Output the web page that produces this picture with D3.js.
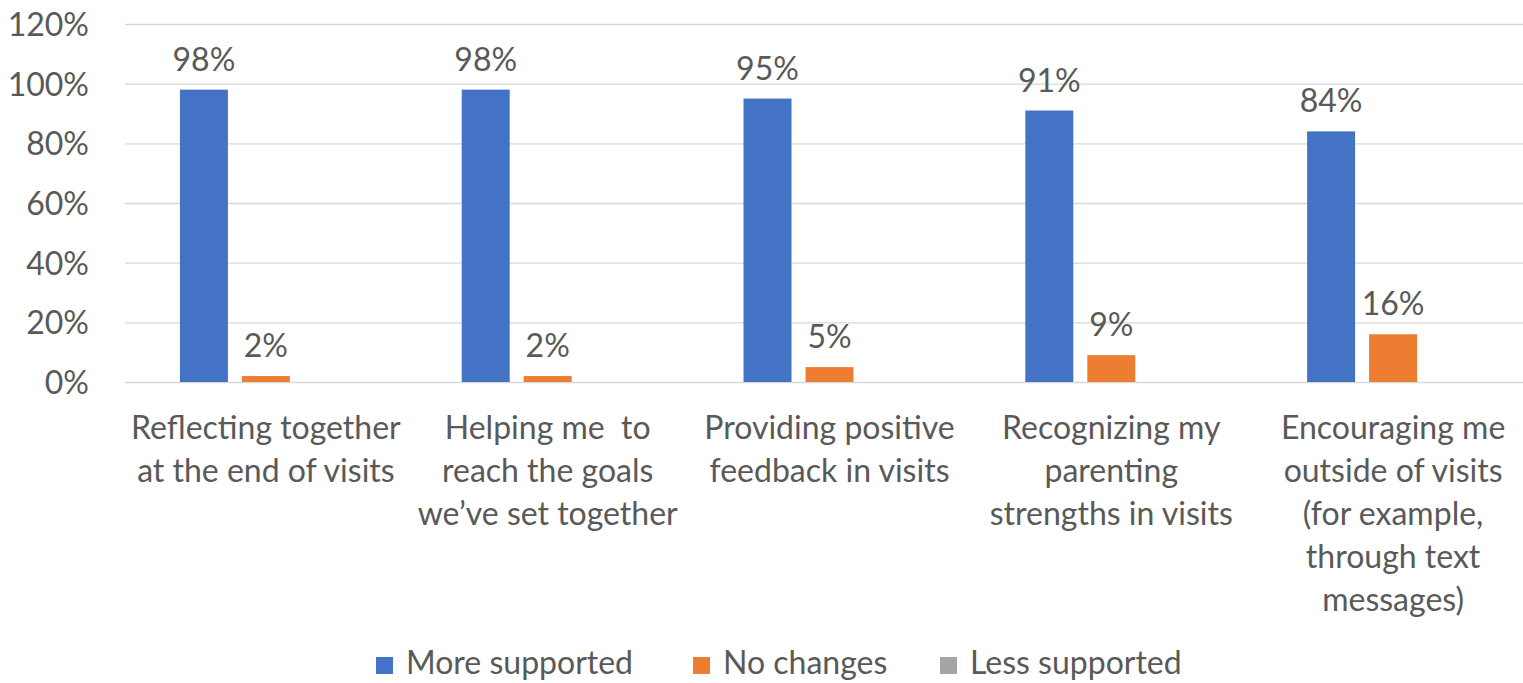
<!DOCTYPE html>
<html>
<head>
<meta charset="utf-8">
<script src="https://cdn.jsdelivr.net/npm/d3@7"></script>
<style>
  body { margin: 0; background: #fff; }
  svg { display: block; font-family: Lato, "Open Sans", sans-serif; }
</style>
</head>
<body>
<div id="chart"></div>
<script>
// chart data
var categories = [
    ['Reflecting together', 'at the end of visits'],
    ['Helping me  to', 'reach the goals', 'we\u2019ve set together'],
    ['Providing positive', 'feedback in visits'],
    ['Recognizing my', 'parenting', 'strengths in visits'],
    ['Encouraging me', 'outside of visits', '(for example,', 'through text', 'messages)']
];
var seriesNames = ['More supported', 'No changes', 'Less supported'];
var moreSupported = [98, 98, 95, 91, 84];
var noChanges = [2, 2, 5, 9, 16];
var lessSupported = [0, 0, 0, 0, 0];
var yTicks = [0, 20, 40, 60, 80, 100, 120];

var colors = ['#4472C4', '#ED7D31', '#A5A5A5'];

var width = 1523, height = 683;
var textColor = '#595959';
var fontSize = 32;

var svg = d3.select('#chart').append('svg')
    .attr('width', width)
    .attr('height', height);

var catIds = categories.map(function (c, i) { return i; });
var values = [moreSupported, noChanges, lessSupported];

// outer band per category, plot runs past the right edge like the original crop
var x0 = d3.scaleBand().domain(catIds).range([125, 1534]).padding(0);
var x1 = d3.scaleBand().domain(d3.range(seriesNames.length))
    .range([0, x0.bandwidth()])
    .paddingInner(0.226)
    .paddingOuter(0.886);

var y = d3.scaleLinear().domain([0, 120]).range([382, 24]);

// gridlines
svg.append('g')
    .selectAll('line')
    .data(yTicks)
    .join('line')
    .attr('x1', 125)
    .attr('x2', width)
    .attr('y1', function (d) { return y(d) + 0.5; })
    .attr('y2', function (d) { return y(d) + 0.5; })
    .style('stroke', '#D9D9D9')
    .style('stroke-width', 1.3);

// y axis labels
var yAxis = d3.axisLeft(y).tickValues(yTicks).tickSize(0).tickPadding(0)
    .tickFormat(function (d) { return d + '%'; });
svg.append('g')
    .attr('transform', 'translate(89,0)')
    .call(yAxis)
    .call(function (g) { g.select('.domain').remove(); })
    .selectAll('text')
    .attr('dy', '0.36em')
    .style('font-family', 'Lato, "Open Sans", sans-serif')
    .style('font-size', fontSize + 'px')
    .style('fill', textColor);

// bars
var groups = svg.append('g')
    .selectAll('g')
    .data(catIds)
    .join('g')
    .attr('transform', function (i) { return 'translate(' + x0(i) + ',0)'; });

groups.selectAll('rect')
    .data(function (i) { return values.map(function (v, s) { return { s: s, v: v[i] }; }); })
    .join('rect')
    .attr('x', function (d) { return x1(d.s); })
    .attr('width', x1.bandwidth())
    .attr('y', function (d) { return y(d.v); })
    .attr('height', function (d) { return y(0) - y(d.v); })
    .style('fill', function (d) { return colors[d.s]; });

// value labels (zero values are not labelled)
groups.selectAll('text.val')
    .data(function (i) {
        return values.map(function (v, s) { return { s: s, v: v[i] }; })
            .filter(function (d) { return d.v > 0; });
    })
    .join('text')
    .attr('class', 'val')
    .attr('x', function (d) { return x1(d.s) + x1.bandwidth() / 2; })
    .attr('y', function (d) { return y(d.v) - 19; })
    .attr('text-anchor', 'middle')
    .style('font-size', fontSize + 'px')
    .style('fill', textColor)
    .text(function (d) { return d.v + '%'; });

// category labels
var labels = svg.append('g')
    .selectAll('text')
    .data(catIds)
    .join('text')
    .attr('x', function (i) { return x0(i) + x0.bandwidth() / 2; })
    .attr('y', 439)
    .attr('text-anchor', 'middle')
    .style('font-size', fontSize + 'px')
    .style('fill', textColor);

labels.selectAll('tspan')
    .data(function (i) { return categories[i]; })
    .join('tspan')
    .attr('x', function () { return d3.select(this.parentNode).attr('x'); })
    .attr('dy', function (d, k) { return k === 0 ? 0 : 43; })
    .style('white-space', 'pre')
    .text(function (d) { return d; });

// legend
var legendX = [376, 693, 940];
var legend = svg.append('g')
    .selectAll('g')
    .data(seriesNames)
    .join('g')
    .attr('transform', function (d, i) { return 'translate(' + legendX[i] + ',657)'; });

legend.append('rect')
    .attr('width', 17)
    .attr('height', 17)
    .style('fill', function (d, i) { return colors[i]; });

legend.append('text')
    .attr('x', 30)
    .attr('y', 17)
    .style('font-size', fontSize + 'px')
    .style('fill', textColor)
    .text(function (d) { return d; });
</script>
</body>
</html>
